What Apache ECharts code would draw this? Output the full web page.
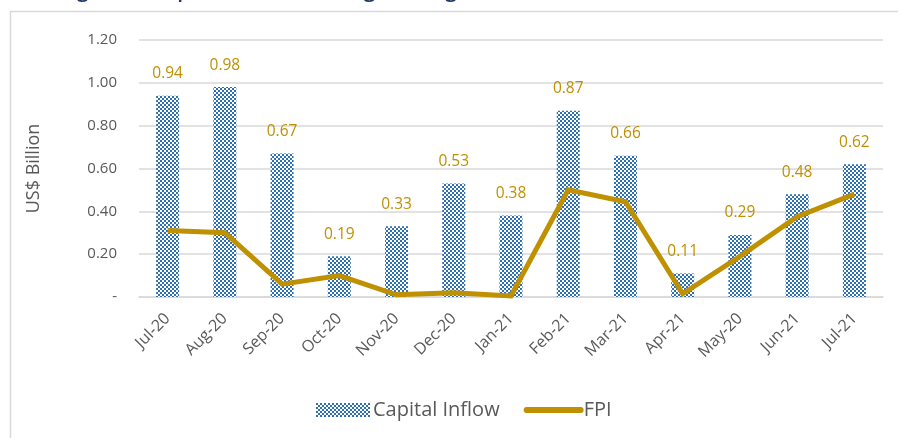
<!DOCTYPE html>
<html><head><meta charset="utf-8">
<script src="https://cdn.jsdelivr.net/npm/echarts@6/dist/echarts.min.js"></script>
<style>html,body{margin:0;padding:0;background:#fff}#c{width:898px;height:438px}</style>
</head><body><div id="c"></div>
<script>
const categories = ['Jul-20','Aug-20','Sep-20','Oct-20','Nov-20','Dec-20','Jan-21','Feb-21','Mar-21','Apr-21','May-20','Jun-21','Jul-21'];
const capitalInflow = [0.94,0.98,0.67,0.19,0.33,0.53,0.38,0.87,0.66,0.11,0.29,0.48,0.62];
const fpi = [0.31,0.30,0.06,0.10,0.01,0.02,0.005,0.50,0.445,0.015,0.19,0.375,0.48];
const yTicks = [0,0.2,0.4,0.6,0.8,1.0,1.2];

const pc = document.createElement('canvas');
pc.width = 4; pc.height = 4;
const g = pc.getContext('2d');
g.fillStyle = '#ffffff'; g.fillRect(0,0,4,4);
g.fillStyle = '#2e70b8';
g.fillRect(0,0,2,2); g.fillRect(2,2,2,2);
const pattern = {image: pc, repeat: 'repeat'};

const gold = '#BF9000';
const font = '"Open Sans", sans-serif';
const chart = echarts.init(document.getElementById('c'));
chart.setOption({
  animation: false,
  graphic: [
    {type:'rect', shape:{x:10.5,y:11.5,width:1000,height:1000}, style:{fill:'none', stroke:'#d9d9d9', lineWidth:1.5}},
    {type:'text', x:60, y:2, style:{text:'Figure 8: Capital Inflows through Foreign Investment (US$, Billion)', font:'600 21px "Open Sans", sans-serif', fill:'#1f3864', verticalAlign:'bottom'}}
  ],
  grid: {left:139, right:15, top:40, bottom:141},
  legend: {
    left: 311, top: 395, itemWidth: 54, itemHeight: 14, itemGap: 24,
    lineStyle: {width: 6, cap: 'round'},
    textStyle: {fontSize: 20, color: '#595959', fontFamily: font, padding:[0,0,0,-2]},
    data: [
      {name:'Capital Inflow', icon:'rect'},
      {name:'FPI', itemStyle: {opacity: 0}}
    ]
  },
  xAxis: {
    type: 'category', data: categories,
    axisLine: {lineStyle: {color:'#d9d9d9', width:1.5}},
    axisTick: {show:false},
    axisLabel: {rotate: 45, color:'#595959', fontSize: 16, fontFamily: font, margin: 19, interval: 0}
  },
  yAxis: {
    type: 'value', min: 0, max: 1.2, interval: 0.2,
    name: 'US$ Billion', nameLocation: 'middle', nameGap: 96,
    nameTextStyle: {fontSize: 18, color:'#595959', fontFamily: font},
    axisLine: {show:false}, axisTick: {show:false},
    splitLine: {lineStyle: {color:'#d9d9d9', width:1.5}},
    axisLabel: {
      margin: 22, color:'#595959', fontSize: 15, fontFamily: font,
      formatter: v => { const t = yTicks.find(x => Math.abs(x - v) < 1e-9); return v === 0 ? '-' : (t !== undefined ? t : v).toFixed(2); }
    }
  },
  series: [
    {
      name: 'Capital Inflow', type: 'bar', data: capitalInflow, barWidth: 23,
      itemStyle: {color: pattern},
      label: {show: true, position: 'top', distance: 14, color: gold, fontSize: 15.5, fontFamily: font, formatter: p => p.value.toFixed(2)}
    },
    {
      name: 'FPI', type: 'line', data: fpi, symbol: 'none',
      lineStyle: {color: gold, width: 5, join:'miter'}, itemStyle: {color: gold}
    }
  ]
});
</script></body></html>
